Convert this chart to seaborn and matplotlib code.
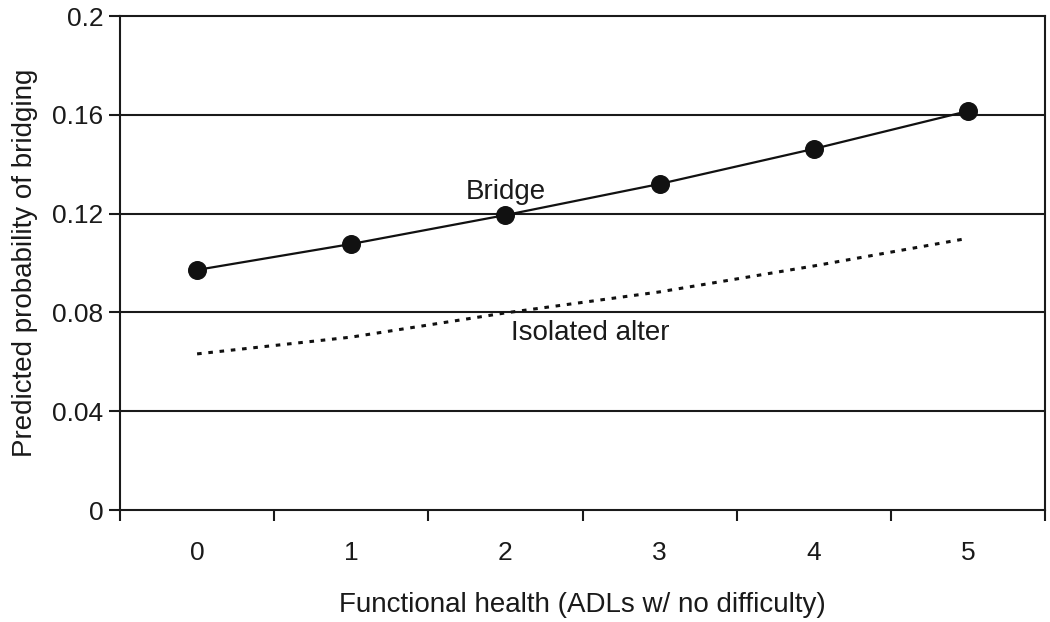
import matplotlib
matplotlib.use("Agg")
import matplotlib.pyplot as plt
import seaborn as sns
import pandas as pd

categories = [0, 1, 2, 3, 4, 5]
bridge = [0.0972, 0.1077, 0.1194, 0.1320, 0.1462, 0.1615]
isolated = [0.0632, 0.0700, 0.0798, 0.0883, 0.0988, 0.1100]
yticks = [0, 0.04, 0.08, 0.12, 0.16, 0.2]
ytick_labels = ["0", "0.04", "0.08", "0.12", "0.16", "0.2"]

sns.set_theme(style="white")
plt.rcParams["font.family"] = ["Liberation Sans", "DejaVu Sans"]

df = pd.DataFrame({"x": categories, "bridge": bridge, "isolated": isolated})

fig = plt.figure(figsize=(10.5, 6.22), dpi=100)
ax = fig.add_axes([120 / 1050, 1 - 510 / 622, (1045 - 120) / 1050, (510 - 16) / 622])

for yv in yticks[1:-1]:
    ax.axhline(yv, color="#1a1a1a", lw=1.5, zorder=1)

sns.lineplot(data=df, x="x", y="bridge", ax=ax, color="#111111", lw=1.6, zorder=3)
sns.scatterplot(data=df, x="x", y="bridge", ax=ax, color="#111111", s=160,
                marker="o", edgecolor="#111111", zorder=4)
sns.lineplot(data=df, x="x", y="isolated", ax=ax, color="#111111", lw=2.2,
             linestyle=(0, (1.5, 2.2)), zorder=3)

ax.text(2, 0.1235, "Bridge", ha="center", va="bottom", fontsize=20, color="#1a1a1a")
ax.text(2.55, 0.0715, "Isolated alter", ha="center", va="center", fontsize=20, color="#1a1a1a")

ax.set_xlim(-0.5, 5.5)
ax.set_ylim(0, 0.2)
ax.set_yticks(yticks)
ax.set_yticklabels(ytick_labels, fontsize=19, color="#1a1a1a")
ax.set_xticks(categories)
ax.set_xticklabels([str(c) for c in categories], fontsize=19, color="#1a1a1a")
ax.set_xticks([c - 0.5 for c in categories] + [5.5], minor=True)

ax.tick_params(axis="x", which="major", bottom=True, length=0, pad=22)
ax.tick_params(axis="x", which="minor", bottom=True, length=8, width=1.5, color="#1a1a1a", direction="out")
ax.tick_params(axis="y", which="major", left=True, length=8, width=1.5, color="#1a1a1a", direction="out", pad=4)

for side in ["left", "right", "top", "bottom"]:
    ax.spines[side].set_visible(True)
    ax.spines[side].set_color("#1a1a1a")
    ax.spines[side].set_linewidth(1.5)

ax.set_xlabel("Functional health (ADLs w/ no difficulty)", fontsize=20, color="#1a1a1a", labelpad=20)
ax.set_ylabel("Predicted probability of bridging", fontsize=20, color="#1a1a1a", labelpad=10)

fig.savefig("out.png", dpi=100, facecolor="white")
